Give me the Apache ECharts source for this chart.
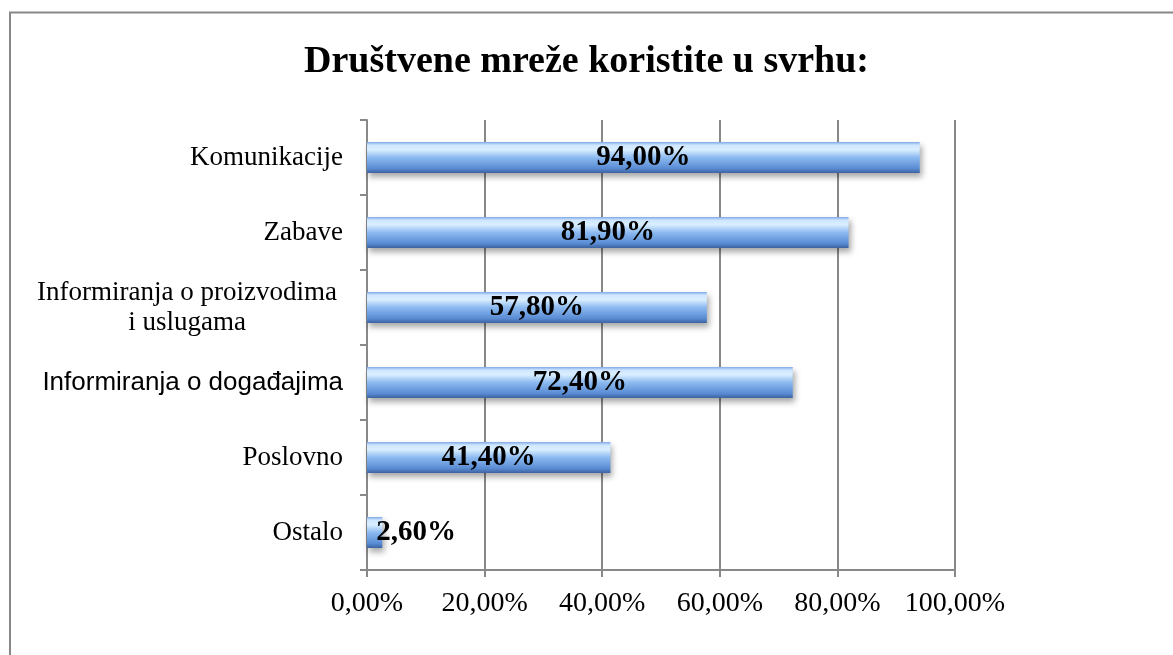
<!DOCTYPE html>
<html>
<head>
<meta charset="utf-8">
<script src="https://cdn.jsdelivr.net/npm/echarts@6/dist/echarts.min.js"></script>
<style>
  html, body { margin: 0; padding: 0; background: #fff; }
  #chart { width: 1173px; height: 655px; }
</style>
</head>
<body>
<div id="chart"></div>
<script>
var categories = ['Komunikacije', 'Zabave', 'Informiranja o proizvodima\ni uslugama', 'Informiranja o događajima', 'Poslovno', 'Ostalo']
var values = [94.0, 81.9, 57.8, 72.4, 41.4, 2.6]
var tickLabels = ['0,00%', '20,00%', '40,00%', '60,00%', '80,00%', '100,00%']

var serif = '"Liberation Serif", "DejaVu Serif", serif'

function pct(v) {
  return v.toFixed(2).replace('.', ',') + '%'
}

var chart = echarts.init(document.getElementById('chart'))

var barColor = new echarts.graphic.LinearGradient(0, 0, 0, 1, [
  { offset: 0, color: '#7fa9e6' },
  { offset: 0.1, color: '#cfe6ff' },
  { offset: 0.25, color: '#d9eeff' },
  { offset: 0.5, color: '#8cbaf0' },
  { offset: 0.85, color: '#5a8cd4' },
  { offset: 1, color: '#3c63a0' }
])

var option = {
  backgroundColor: '#fff',
  animation: false,
  title: {
    text: 'Društvene mreže koristite u svrhu:',
    left: 'center',
    top: 38,
    textStyle: { fontFamily: serif, fontSize: 38, fontWeight: 'bold', color: '#000' }
  },
  graphic: [
    {
      type: 'polyline',
      shape: { points: [[10, 655], [10, 12.5], [1173, 12.5]] },
      style: { stroke: '#888', lineWidth: 2, fill: null }
    }
  ],
  grid: {
    left: 367,
    right: 218,
    top: 120,
    bottom: 85
  },
  xAxis: {
    type: 'value',
    min: 0,
    max: 100,
    interval: 20,
    axisLine: { show: true, lineStyle: { color: '#888', width: 2 } },
    axisTick: { show: true, length: 7, lineStyle: { color: '#888', width: 2 } },
    splitLine: { show: true, lineStyle: { color: '#888', width: 2 } },
    axisLabel: {
      margin: 20,
      fontFamily: serif,
      fontSize: 28,
      color: '#000',
      formatter: function (v) { return tickLabels[v / 20] }
    }
  },
  yAxis: {
    type: 'category',
    inverse: true,
    data: categories,
    axisLine: { show: true, lineStyle: { color: '#888', width: 2 } },
    axisTick: { show: true, length: 7, lineStyle: { color: '#888', width: 2 } },
    axisLabel: {
      margin: 24,
      fontFamily: serif,
      fontSize: 27,
      color: '#000',
      align: 'right',
      formatter: function (v) {
        if (v === 'Informiranja o događajima') return '{sans|' + v + '}'
        if (v.indexOf('\n') >= 0) {
          return v.split('\n').map(function (s) { return '{ml|' + s + '}' }).join('\n')
        }
        return v
      },
      rich: {
        sans: { fontFamily: '"Liberation Sans", Arial, sans-serif', fontSize: 26, color: '#000' },
        ml: { fontFamily: serif, fontSize: 27, color: '#000', width: 312, align: 'center', lineHeight: 30 }
      }
    }
  },
  series: [
    {
      type: 'bar',
      barWidth: 31,
      data: values.map(function (v) {
        var item = { value: v }
        if (v < 10) {
          item.label = { position: 'right', distance: -6 }
        }
        return item
      }),
      itemStyle: {
        color: barColor,
        shadowColor: 'rgba(0,0,0,0.35)',
        shadowBlur: 6,
        shadowOffsetX: 2,
        shadowOffsetY: 4
      },
      label: {
        show: true,
        position: 'inside',
        fontFamily: serif,
        fontSize: 29,
        fontWeight: 'bold',
        color: '#000',
        formatter: function (p) { return pct(p.value) }
      }
    }
  ]
}

chart.setOption(option)
</script>
</body>
</html>
